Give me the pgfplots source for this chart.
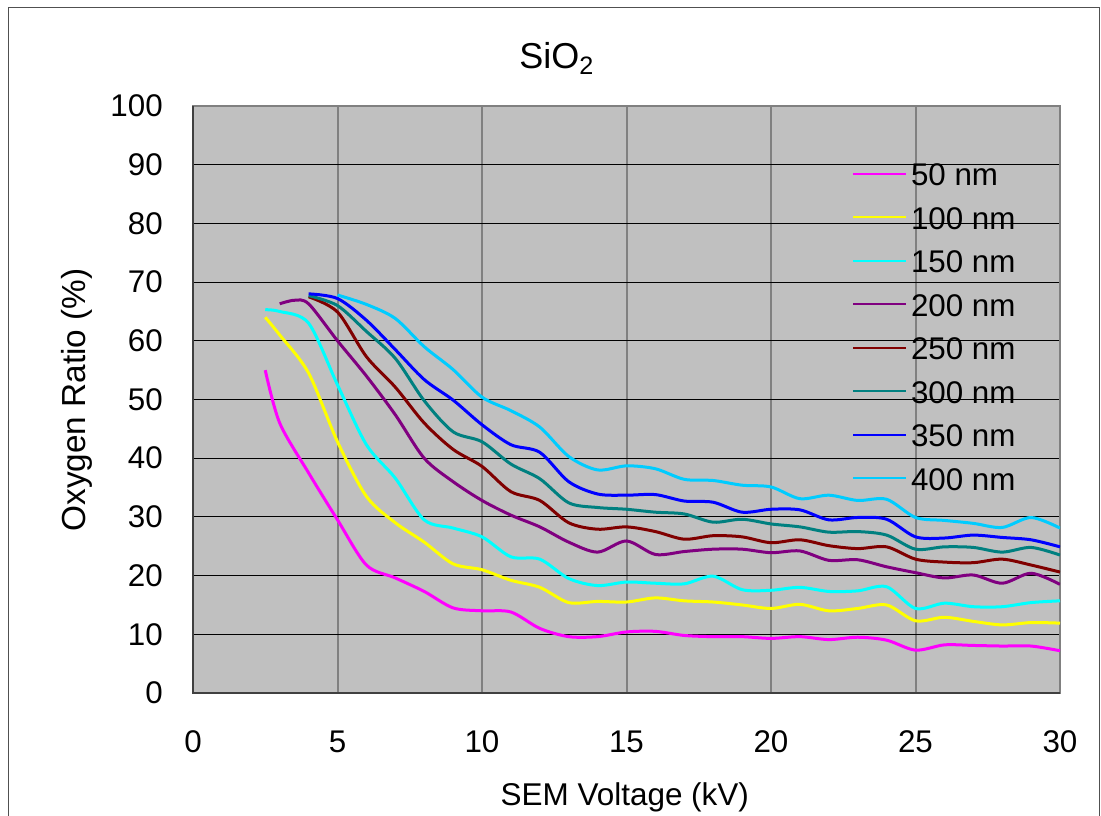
\documentclass[border=0pt]{standalone}
\usepackage{fontspec}
\setmainfont{Liberation Sans}
\usepackage{pgfplots}
\pgfplotsset{compat=1.18}

% series colours
\definecolor{c50}{RGB}{255,0,255}
\definecolor{c100}{RGB}{255,255,0}
\definecolor{c150}{RGB}{0,255,255}
\definecolor{c200}{RGB}{128,0,128}
\definecolor{c250}{RGB}{128,0,0}
\definecolor{c300}{RGB}{0,128,128}
\definecolor{c350}{RGB}{0,0,255}
\definecolor{c400}{RGB}{0,204,255}
\definecolor{plotbg}{RGB}{192,192,192}
\definecolor{framegray}{RGB}{128,128,128}
\definecolor{axisdark}{RGB}{64,64,64}
\definecolor{outerframe}{RGB}{80,80,80}

\newcommand{\tickfont}{\fontsize{23.5}{28}\selectfont}
\newcommand{\xlabfont}{\fontsize{23.6}{28}\selectfont}
\newcommand{\ylabfont}{\fontsize{25}{30}\selectfont}
\newcommand{\titlefont}{\fontsize{27}{32}\selectfont}

\begin{document}
\begin{tikzpicture}
\path[use as bounding box] (0pt,0pt) rectangle (825.75pt,-612pt);
% chart area border
\draw[outerframe, line width=0.75pt] (6pt,-6pt) rectangle (824.6pt,-640pt);
\begin{axis}[
  at={(144.75pt,-519.75pt)}, anchor=south west,
  scale only axis, width=650.25pt, height=440.25pt,
  xmin=0, xmax=30, ymin=0, ymax=100,
  xtick={0,5,...,30}, ytick={0,10,...,100},
  major tick length=0pt,
  /pgf/number format/assume math mode=true,
  tick label style={font=\tickfont},
  xticklabel style={anchor=base, inner sep=0pt, yshift=-44.25pt},
  yticklabel style={anchor=east, inner sep=0pt, xshift=-22.5pt},
  axis background/.style={fill=plotbg},
  axis line style={draw=framegray, line width=1.5pt},
  xmajorgrids, ymajorgrids,
  x grid style={framegray, line width=1.5pt},
  y grid style={black, line width=0.75pt},
  every axis title shift=0pt,
  title={SiO\textsubscript{2}},
  title style={at={(axis description cs:0.4195,1.0647)}, anchor=base, font=\titlefont},
  xlabel={SEM Voltage (kV)},
  xlabel style={at={(axis description cs:0.498,-0.191)}, anchor=base, font=\xlabfont},
  ylabel={Oxygen Ratio (\%)},
  ylabel style={at={(axis description cs:-0.1338,0.4991)}, anchor=center, font=\ylabfont},
  legend cell align=left,
  legend style={at={(axis description cs:0.7601,0.9015)}, anchor=north west,
    draw=none, fill=none, inner sep=0pt, outer sep=0pt, font=\tickfont,
    row sep=14.7pt, nodes={inner sep=0pt},
    /tikz/every odd column/.append style={column sep=3pt}},
  legend image code/.code={\draw[#1, line width=1.5pt] (0pt,1.5pt) -- (39.75pt,1.5pt);},
  every axis plot/.append style={line width=2.25pt, smooth, no markers},
  after end axis/.code={
    \draw[axisdark, line width=1.5pt] (rel axis cs:0,1) -- (rel axis cs:0,0) -- (rel axis cs:1,0);
  },
]
\addplot[c50] coordinates {
 (2.5,55) (3,46) (4,37.5) (5,29.5) (6,21.8) (7,19.6) (8,17.3) (9,14.5) (10,14)
 (11,13.8) (12,11) (13,9.6) (14,9.6) (15,10.4) (16,10.5) (17,9.8) (18,9.6)
 (19,9.6) (20,9.3) (21,9.6) (22,9.1) (23,9.5) (24,9.0) (25,7.3) (26,8.2)
 (27,8.1) (28,8.0) (29,8.0) (30,7.2)};
\addlegendentry{50 nm}
\addplot[c100] coordinates {
 (2.5,64) (3,61) (4,54.5) (5,42.8) (6,33.5) (7,29) (8,25.7) (9,22) (10,21)
 (11,19.2) (12,18) (13,15.4) (14,15.6) (15,15.5) (16,16.2) (17,15.7) (18,15.5)
 (19,15) (20,14.4) (21,15.1) (22,14.0) (23,14.4) (24,15.0) (25,12.3) (26,12.9)
 (27,12.2) (28,11.6) (29,12) (30,11.9)};
\addlegendentry{100 nm}
\addplot[c150] coordinates {
 (2.5,65.3) (3,65) (4,63) (5,52.5) (6,42.3) (7,36.6) (8,29.5) (9,28.1) (10,26.6)
 (11,23.2) (12,22.8) (13,19.5) (14,18.3) (15,18.9) (16,18.7) (17,18.6) (18,19.9)
 (19,17.6) (20,17.5) (21,18.0) (22,17.3) (23,17.4) (24,18.1) (25,14.4) (26,15.3)
 (27,14.7) (28,14.7) (29,15.4) (30,15.7)};
\addlegendentry{150 nm}
\addplot[c200] coordinates {
 (3,66.3) (3.5,66.9) (4,66.3) (5,60) (6,54) (7,47.4) (8,40) (9,36) (10,32.8)
 (11,30.3) (12,28.3) (13,25.7) (14,24) (15,25.9) (16,23.6) (17,24.1) (18,24.5)
 (19,24.5) (20,23.9) (21,24.2) (22,22.6) (23,22.7) (24,21.5) (25,20.5) (26,19.6)
 (27,20.1) (28,18.7) (29,20.4) (30,18.5)};
\addlegendentry{200 nm}
\addplot[c250] coordinates {
 (4,67.5) (5,64.9) (6,57.3) (7,52.1) (8,46) (9,41.5) (10,38.6) (11,34.3)
 (12,32.8) (13,29) (14,27.9) (15,28.3) (16,27.5) (17,26.2) (18,26.8) (19,26.6)
 (20,25.6) (21,26.1) (22,25.1) (23,24.6) (24,24.9) (25,22.8) (26,22.3) (27,22.2)
 (28,22.8) (29,21.8) (30,20.6)};
\addlegendentry{250 nm}
\addplot[c300] coordinates {
 (4,67.7) (5,66) (6,61.6) (7,57) (8,49.8) (9,44.5) (10,42.8) (11,39) (12,36.5)
 (13,32.4) (14,31.6) (15,31.3) (16,30.8) (17,30.5) (18,29.1) (19,29.6) (20,28.8)
 (21,28.3) (22,27.4) (23,27.5) (24,26.9) (25,24.5) (26,24.9) (27,24.8) (28,24.0)
 (29,24.8) (30,23.5)};
\addlegendentry{300 nm}
\addplot[c350] coordinates {
 (4,68) (5,67.2) (6,63.5) (7,58.5) (8,53.4) (9,49.9) (10,45.7) (11,42.3) (12,41)
 (13,36) (14,33.9) (15,33.7) (16,33.8) (17,32.7) (18,32.5) (19,30.8) (20,31.3)
 (21,31.2) (22,29.5) (23,29.9) (24,29.6) (25,26.6) (26,26.4) (27,26.9) (28,26.5)
 (29,26.1) (30,24.9)};
\addlegendentry{350 nm}
\addplot[c400] coordinates {
 (5,67.8) (6,66.2) (7,63.8) (8,59) (9,55.1) (10,50.4) (11,48.1) (12,45.3)
 (13,40.3) (14,38) (15,38.7) (16,38.2) (17,36.4) (18,36.2) (19,35.4) (20,35.1)
 (21,33.1) (22,33.7) (23,32.8) (24,33.0) (25,29.9) (26,29.4) (27,28.9) (28,28.2)
 (29,29.9) (30,28.1)};
\addlegendentry{400 nm}
\end{axis}
\end{tikzpicture}
\end{document}
